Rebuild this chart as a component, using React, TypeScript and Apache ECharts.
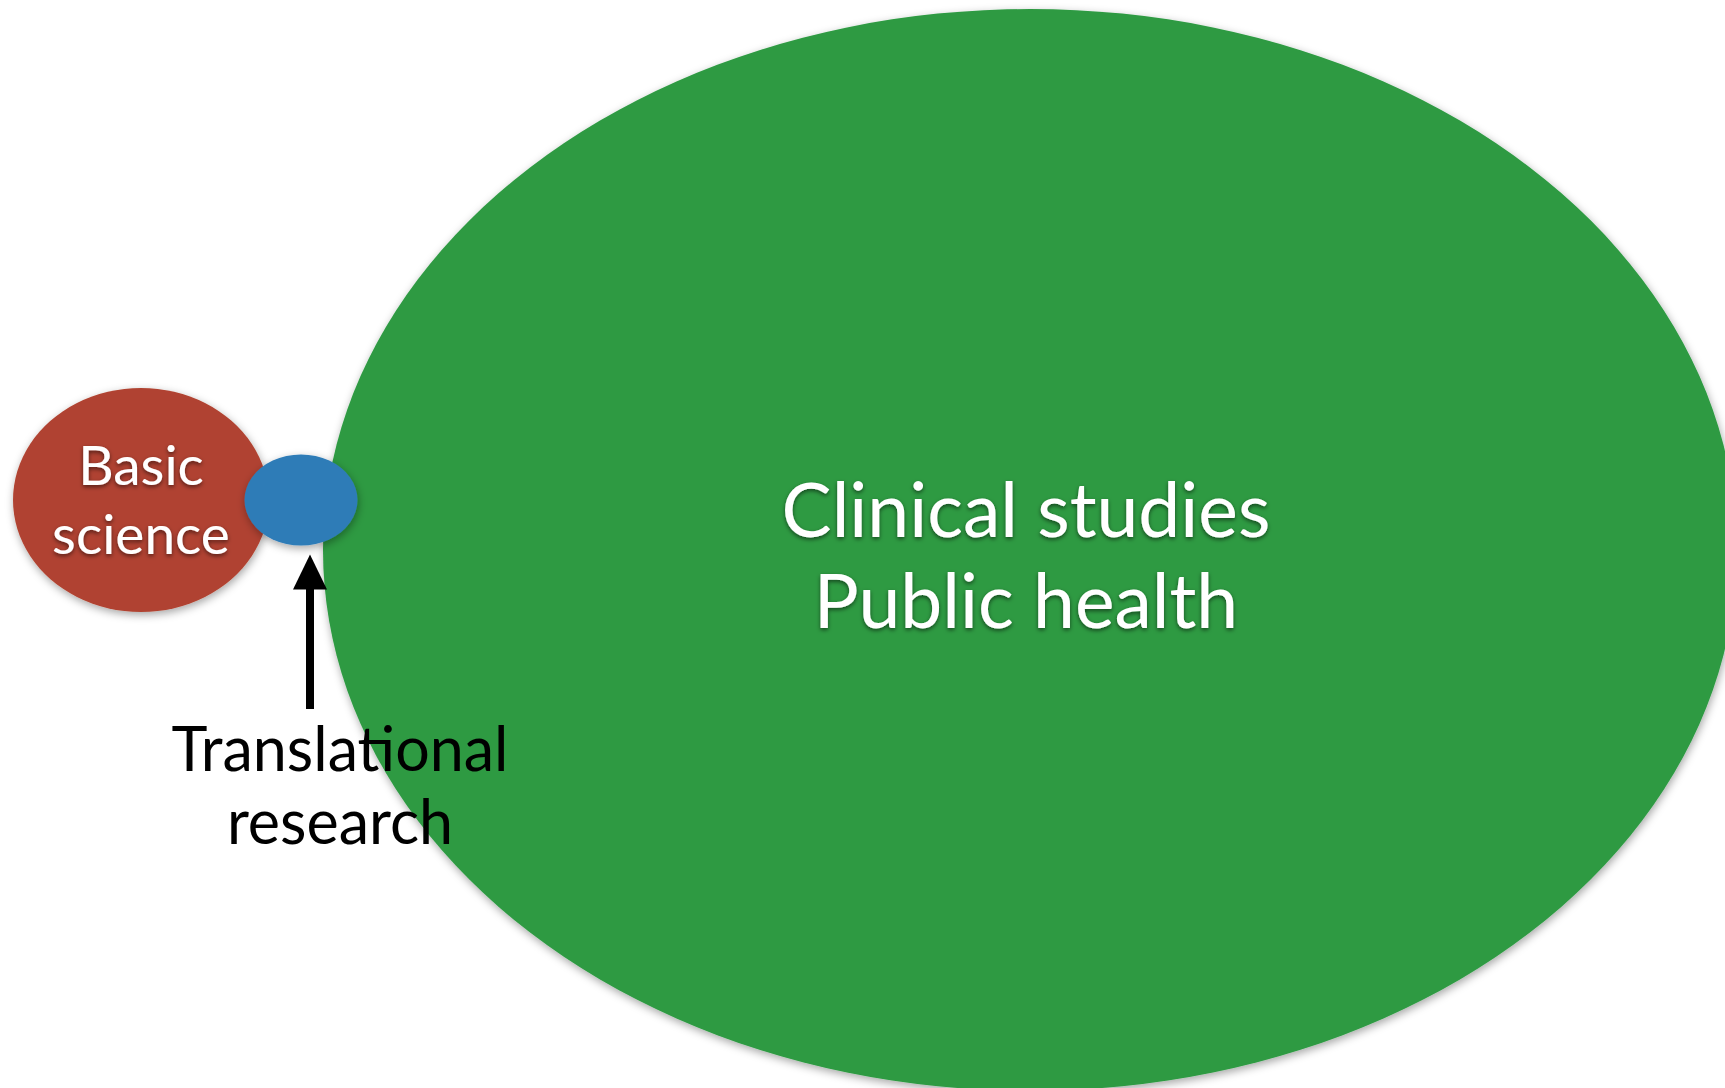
import { useEffect, useRef } from "react";
import * as echarts from "echarts";

// Fields of research (diagram "values": centre and extent of each field, in canvas units)
const fieldNames = ["Clinical studies\nPublic health", "Basic\nscience", "Translational research"];
const fieldCenterX = [1030, 141, 301];
const fieldCenterY = [550, 500, 500];
const fieldWidth = [1414, 256, 113];
const fieldHeight = [1082, 224, 91];
const fieldColors = ["#2e9a43", "#b04330", "#2f7cb7"];
const fieldLabelSize = [75, 55, 0];
const fieldLabelLineHeight = [91, 69, 0];

// Arrow pointing at the translational field
const arrowX = [310, 310];
const arrowY = [709, 572];
const noteText = "Translational\nresearch";

const FONT = "Lato, 'Open Sans', sans-serif";

export default function App() {
  const ref = useRef<HTMLDivElement>(null);
  useEffect(() => {
    if (!ref.current) return;
    const chart = echarts.init(ref.current, undefined, { renderer: "svg" });
    const series: any[] = fieldNames.map((name, i) => ({
      type: "scatter",
      name,
      z: 2 + i,
      symbol: "circle",
      symbolSize: (v: number[]) => [v[2], v[3]],
      data: [[fieldCenterX[i], fieldCenterY[i], fieldWidth[i], fieldHeight[i]]],
      itemStyle: {
        color: fieldColors[i],
        opacity: 1,
        shadowBlur: 8,
        shadowColor: "rgba(0,0,0,0.35)",
        shadowOffsetX: 1,
        shadowOffsetY: 3,
      },
      label: {
        show: fieldLabelSize[i] > 0,
        position: "inside",
        formatter: () => name,
        color: "#ffffff",
        fontFamily: FONT,
        fontSize: fieldLabelSize[i] || 12,
        lineHeight: fieldLabelLineHeight[i] || 12,
        align: "center",
        textShadowColor: "rgba(0,0,0,0.55)",
        textShadowBlur: 4,
        textShadowOffsetY: 2,
        offset: i === 0 ? [-4, 3] : [0, -2],
      },
      emphasis: { disabled: true },
      silent: true,
    }));
    series.push({
      type: "line",
      z: 10,
      data: [],
      symbol: "none",
      markLine: {
        silent: true,
        symbol: ["none", "triangle"],
        symbolSize: [34, 35],
        label: { show: false },
        lineStyle: { color: "#000", width: 8, type: "solid" },
        data: [
          [
            { coord: [arrowX[0], arrowY[0]] },
            { coord: [arrowX[1], arrowY[1]] },
          ],
        ],
      },
    });
    chart.setOption({
      animation: false,
      backgroundColor: "#ffffff",
      grid: { left: 0, right: 0, top: 0, bottom: 0, containLabel: false },
      xAxis: { type: "value", min: 0, max: 1725, show: false },
      yAxis: { type: "value", min: 0, max: 1088, inverse: true, show: false },
      tooltip: { show: false },
      series,
      graphic: [
        {
          type: "text",
          x: 340,
          y: 784,
          z: 20,
          style: {
            text: noteText,
            fill: "#000",
            fontSize: 61,
            fontFamily: FONT,
            lineHeight: 73,
            align: "center",
            verticalAlign: "middle",
          },
        },
      ],
    });
    return () => chart.dispose();
  }, []);
  return (
    <div
      ref={ref}
      style={{ position: "absolute", left: 0, top: 0, width: 1725, height: 1088 }}
    />
  );
}
